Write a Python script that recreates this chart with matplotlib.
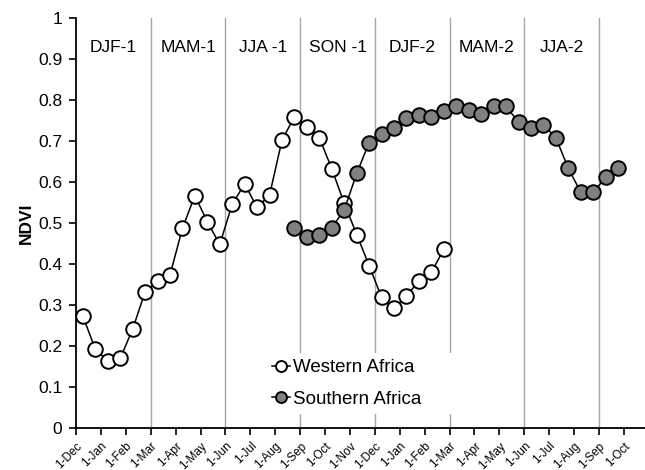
import matplotlib
matplotlib.use("Agg")
import matplotlib.pyplot as plt
import matplotlib.transforms as mtransforms
import numpy as np

plt.rcParams['font.family'] = ['Liberation Sans', 'DejaVu Sans']

# month tick labels, Dec of year 1 through Oct of year 3
months = ["1-Dec", "1-Jan", "1-Feb", "1-Mar", "1-Apr", "1-May", "1-Jun", "1-Jul",
          "1-Aug", "1-Sep", "1-Oct", "1-Nov", "1-Dec", "1-Jan", "1-Feb", "1-Mar",
          "1-Apr", "1-May", "1-Jun", "1-Jul", "1-Aug", "1-Sep", "1-Oct"]
seasons = ["DJF-1", "MAM-1", "JJA -1", "SON -1", "DJF-2", "MAM-2", "JJA-2"]

# NDVI composites, one every half month
west = [0.273, 0.193, 0.163, 0.170, 0.241, 0.332, 0.358, 0.373, 0.487, 0.567,
        0.503, 0.448, 0.546, 0.595, 0.538, 0.568, 0.702, 0.759, 0.735, 0.708,
        0.632, 0.548, 0.472, 0.396, 0.319, 0.292, 0.323, 0.358, 0.380, 0.436]
south = [0.487, 0.467, 0.472, 0.489, 0.532, 0.621, 0.696, 0.717, 0.731, 0.757,
         0.763, 0.758, 0.774, 0.786, 0.776, 0.765, 0.786, 0.784, 0.746, 0.731,
         0.739, 0.708, 0.633, 0.575, 0.575, 0.611, 0.633]
south_start = 17

x0 = 0.27
x_west = x0 + 0.5 * np.arange(len(west))
x_south = x0 + 0.5 * (south_start + np.arange(len(south)))

fig = plt.figure(figsize=(6.45, 4.7), dpi=100)
ax = fig.add_axes([0.118, 0.089, 0.882, 0.873])

# season separators
for b in range(3, 22, 3):
    ax.axvline(b, color="#a6a6a6", lw=1.0, zorder=1)
for i, s in enumerate(seasons):
    ax.text(1.5 + 3 * i, 0.927, s, ha="center", va="center", fontsize=12.5)

ax.plot(x_west, west, "-o", color="black", lw=1.1, ms=10.5, mfc="white",
        mec="black", mew=1.4, label="Western Africa", zorder=3)
ax.plot(x_south, south, "-o", color="black", lw=1.1, ms=10.5, mfc="#808080",
        mec="black", mew=1.4, label="Southern Africa", zorder=3)

ax.set_xlim(0, 22.85)
ax.set_ylim(0, 1)
ax.set_xticks(range(len(months)))
ax.set_xticklabels(months, rotation=45, ha="right", rotation_mode="anchor",
                   fontsize=8.5)
shift = mtransforms.ScaledTranslation(0.045, -0.015, fig.dpi_scale_trans)
for lab in ax.get_xticklabels():
    lab.set_transform(lab.get_transform() + shift)
ax.set_yticks(np.arange(0, 1.01, 0.1))
ax.set_yticklabels(["0", "0.1", "0.2", "0.3", "0.4", "0.5", "0.6", "0.7",
                    "0.8", "0.9", "1"], fontsize=12.5)
ax.set_ylabel("NDVI", fontsize=12.5, fontweight="bold", labelpad=3)
ax.tick_params(direction="out", length=5, width=1.2)
ax.tick_params(axis="y", pad=5)
ax.spines["top"].set_visible(False)
ax.spines["right"].set_visible(False)
ax.spines["left"].set_linewidth(1.3)
ax.spines["bottom"].set_linewidth(1.3)

leg = ax.legend(loc="upper left", bbox_to_anchor=(0.334, 0.0, 0.327, 0.182),
                mode="expand", fontsize=13.5, frameon=True, handlelength=1.0,
                handletextpad=0.15, labelspacing=0.78, borderpad=0.3,
                markerscale=0.75, borderaxespad=0)
leg.get_frame().set_edgecolor("none")
leg.get_frame().set_facecolor("white")
leg.get_frame().set_alpha(1)
leg.get_frame().set_boxstyle("square", pad=0)
leg.set_zorder(4)

fig.savefig("out.png", dpi=100)
